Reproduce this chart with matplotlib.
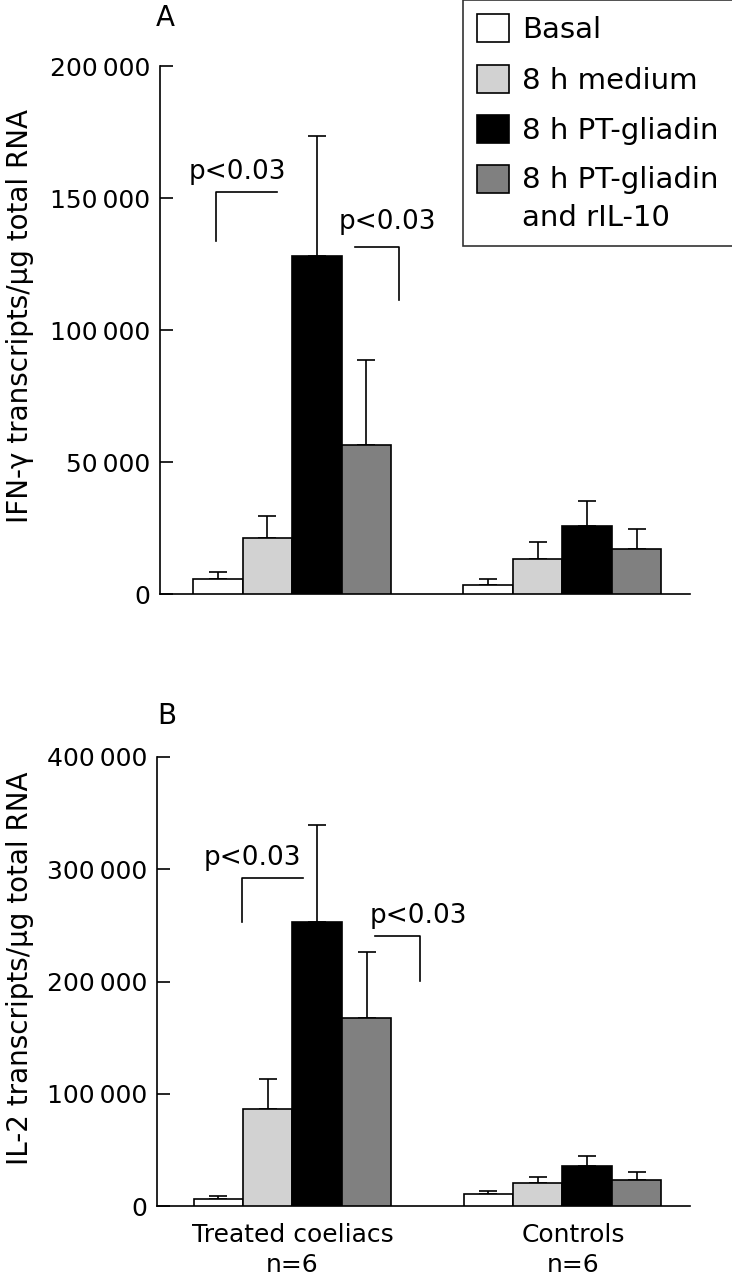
import matplotlib
matplotlib.use("Agg")
import matplotlib.pyplot as plt
import matplotlib.patches as mpatches
from matplotlib.legend_handler import HandlerPatch

plt.rcParams['font.family'] = ['DejaVu Sans']

# データ
series = ["Basal", "8 h medium", "8 h PT-gliadin", "8 h PT-gliadin\nand rIL-10"]
colors = ["white", "#d2d2d2", "black", "#808080"]
groups = ["Treated coeliacs\nn=6", "Controls\nn=6"]

# IFN-gamma (A)
ifn_treated = [5500, 21300, 128000, 56300]
ifn_treated_err = [3000, 8300, 45500, 32300]
ifn_controls = [3300, 13400, 25900, 17200]
ifn_controls_err = [2300, 6300, 9200, 7300]

# IL-2 (B)
il2_treated = [6300, 86700, 252700, 167700]
il2_treated_err = [2600, 26100, 87100, 58900]
il2_controls = [10400, 20800, 35900, 22900]
il2_controls_err = [3000, 5000, 8600, 7100]

yticks_a = [0, 50000, 100000, 150000, 200000]
yticks_b = [0, 100000, 200000, 300000, 400000]

group_pos = [0, 5.46]
width = 1.0
fs = 18


def fmt(v):
    return f"{v:,}".replace(",", "\u2009")


def draw_bars(ax, means, errs, center):
    for i in range(4):
        x = center + (i - 1.5) * width
        ax.bar(x, means[i], width, color=colors[i], edgecolor="black", linewidth=1.2,
               zorder=3)
        ax.errorbar(x, means[i], yerr=[[0], [errs[i]]], fmt="none", ecolor="black",
                    elinewidth=1.2, capsize=6.8, capthick=1.2, zorder=2)


def style_axes(ax, yticks, xleft):
    ax.set_xlim(xleft, 8.04)
    ax.set_ylim(0, yticks[-1])
    ax.spines["top"].set_visible(False)
    ax.spines["right"].set_visible(False)
    ax.spines["left"].set_linewidth(1.2)
    ax.spines["bottom"].set_linewidth(1.2)
    ax.set_yticks(yticks)
    ax.set_yticklabels([fmt(v) for v in yticks])
    ax.tick_params(axis="y", direction="in", length=9.5, width=1.2, labelsize=fs, pad=7)
    ax.tick_params(axis="x", length=0)


def bracket(ax, x0, x1, ytop, ybot, side, tx, ty):
    if side == "left":
        ax.plot([x0, x0, x1], [ybot, ytop, ytop], color="black", lw=1.2)
    else:
        ax.plot([x0, x1, x1], [ytop, ytop, ybot], color="black", lw=1.2)
    ax.text(tx, ty, "p<0.03", ha="center", va="baseline", fontsize=19)


# 2行ラベルの四角を1行目にそろえる
def upper_patch(legend, orig_handle, xdescent, ydescent, width, height, fontsize):
    return mpatches.Rectangle((-xdescent, -ydescent + 15), width, height)


fig = plt.figure(figsize=(7.32, 12.8), dpi=100)

# A
ax1 = fig.add_axes([160 / 732, 686 / 1280, 530 / 732, 528 / 1280])
draw_bars(ax1, ifn_treated, ifn_treated_err, group_pos[0])
draw_bars(ax1, ifn_controls, ifn_controls_err, group_pos[1])
style_axes(ax1, yticks_a, -2.67)
ax1.set_xticks([])
bracket(ax1, -1.54, -0.31, 152300, 133700, "left", -1.11, 157200)
bracket(ax1, 1.27, 2.16, 131400, 111400, "right", 1.92, 138300)
fig.text(20 / 732, 1 - 316 / 1280, "IFN-\u03b3 transcripts/\u03bcg total RNA",
         rotation=90, ha="center", va="center", fontsize=20)
fig.text(165 / 732, 1 - 18 / 1280, "A", ha="center", va="center", fontsize=20)

# B
ax2 = fig.add_axes([157 / 732, 74 / 1280, 533 / 732, 449 / 1280])
draw_bars(ax2, il2_treated, il2_treated_err, group_pos[0])
draw_bars(ax2, il2_controls, il2_controls_err, group_pos[1])
style_axes(ax2, yticks_b, -2.74)
ax2.set_xticks([0, 5.68])
ax2.set_xticklabels(groups, fontsize=fs, linespacing=1.35)
ax2.tick_params(axis="x", pad=12)
bracket(ax2, -1.03, 0.21, 292500, 253000, "left", -0.81, 303900)
bracket(ax2, 1.67, 2.57, 240500, 200100, "right", 2.54, 252000)
fig.text(20 / 732, 1 - 968 / 1280, "IL-2 transcripts/\u03bcg total RNA",
         rotation=90, ha="center", va="center", fontsize=20)
fig.text(167 / 732, 1 - 716 / 1280, "B", ha="center", va="center", fontsize=20)

# 凡例
handles = [mpatches.Patch(facecolor=c, edgecolor="black", linewidth=1.2) for c in colors]
leg = fig.legend(handles, series, loc="upper left", bbox_to_anchor=(463 / 732, 1.0),
                 fontsize=21, frameon=True, fancybox=False, edgecolor="black",
                 handlelength=1.1, handleheight=1.1, handletextpad=0.45,
                 labelspacing=0.71, borderpad=0.48, borderaxespad=0,
                 handler_map={handles[3]: HandlerPatch(patch_func=upper_patch)})
leg.get_frame().set_linewidth(1.2)
leg.get_texts()[3].set_linespacing(1.45)

plt.savefig("out.png")
